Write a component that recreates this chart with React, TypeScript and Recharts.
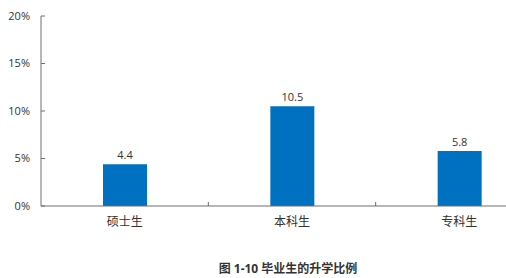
import React from "react";
import { BarChart, Bar, XAxis, YAxis, LabelList } from "recharts";

const categories = ["硕士生", "本科生", "专科生"];
const rates = [4.4, 10.5, 5.8];
const yTicks = [0, 5, 10, 15, 20];
const title = "图 1-10 毕业生的升学比例";

const data = categories.map((c, i) => ({ name: c, value: rates[i] }));

const FONT = '"Open Sans", "Noto Sans CJK SC", sans-serif';
const AXIS = "#6e6e6e";
const TEXT = "#333333";

const CHART_W = 545;
const PLOT_LEFT = 41;
const PLOT_RIGHT_MARGIN = 2;
const BAND = (CHART_W - PLOT_LEFT - PLOT_RIGHT_MARGIN) / categories.length;

const CatTick = (props: any) => {
  const { x, y, payload, index } = props;
  return (
    <g>
      {index > 0 && (
        <line x1={x - BAND / 2} x2={x - BAND / 2} y1={y} y2={y - 4} stroke={AXIS} strokeWidth={1} />
      )}
      <text x={x} y={y + 20} textAnchor="middle" fill={TEXT} fontSize={12} fontFamily={FONT}>
        {payload.value}
      </text>
    </g>
  );
};

export default function App() {
  return (
    <div style={{ position: "absolute", left: 0, top: 0, width: 506, height: 278, overflow: "hidden", background: "#fff" }}>
      <BarChart
        width={CHART_W}
        height={278}
        data={data}
        margin={{ top: 16, right: PLOT_RIGHT_MARGIN, bottom: 42, left: 0 }}
        barCategoryGap={0}
      >
        <XAxis
          dataKey="name"
          axisLine={{ stroke: AXIS }}
          tickLine={false}
          tickSize={0}
          tickMargin={0}
          tick={<CatTick />}
          height={30}
          interval={0}
        />
        <YAxis
          domain={[0, 20]}
          ticks={yTicks}
          width={PLOT_LEFT}
          axisLine={{ stroke: AXIS }}
          tickLine={{ stroke: AXIS }}
          tickSize={-4}
          tickMargin={15}
          tickFormatter={(v: number) => `${v}%`}
          tick={{ fill: TEXT, fontSize: 11, fontFamily: FONT }}
        />
        <Bar dataKey="value" fill="#0070C0" barSize={44} isAnimationActive={false}>
          <LabelList dataKey="value" position="top" offset={5} fill={TEXT} fontSize={11} fontFamily={FONT} />
        </Bar>
      </BarChart>
      <div
        style={{
          position: "absolute",
          left: 0,
          width: 576,
          top: 260,
          textAlign: "center",
          fontFamily: FONT,
          fontWeight: "bold",
          fontSize: 12,
          color: TEXT,
          lineHeight: "18px",
        }}
      >
        {title}
      </div>
    </div>
  );
}
